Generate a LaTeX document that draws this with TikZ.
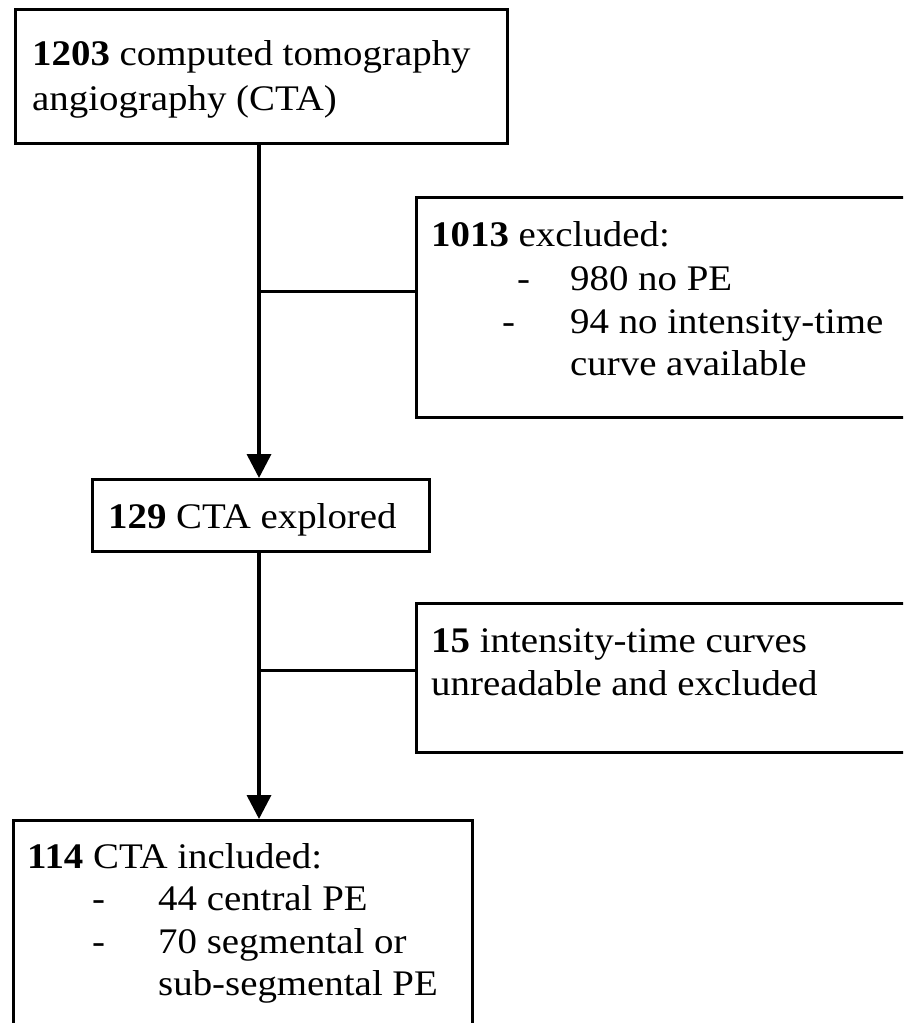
\documentclass[tikz,border=0pt]{standalone}
\usepackage{fontspec}
\setmainfont{Liberation Serif}[FakeStretch=1.08]
\usetikzlibrary{arrows.meta}
\tikzset{
  boxline/.style={draw=black, line width=3pt},
  txt/.style={anchor=base west, inner sep=0pt, font=\fontsize{36}{43}\selectfont},
  flow/.style={line width=3.6pt, -{Triangle[width=24pt,length=24pt]}},
  branch/.style={line width=3pt},
}
\begin{document}
\begin{tikzpicture}[x=1pt,y=-1pt]
\useasboundingbox (0,0) rectangle (903,1023);
\clip (0,0) rectangle (903,1023);
\fill[white] (0,0) rectangle (903,1023);
% boxes
\node[boxline, anchor=north west, minimum width=492pt, minimum height=134pt, inner sep=0pt] (top) at (14,8) {};
\node[boxline, anchor=north west, minimum width=505pt, minimum height=220pt, inner sep=0pt] (exa) at (415,196) {};
\node[boxline, anchor=north west, minimum width=337pt, minimum height=72pt, inner sep=0pt] (mid) at (91,478) {};
\node[boxline, anchor=north west, minimum width=505pt, minimum height=149pt, inner sep=0pt] (exb) at (415,602) {};
\node[boxline, anchor=north west, minimum width=459pt, minimum height=230pt, inner sep=0pt] (bot) at (12,819) {};
% texts
\node[txt] (t1) at (32,65) {\textbf{1203} computed tomography};
\node[txt] (t2) at (32,110) {angiography (CTA)};
\node[txt] (a1) at (431,246) {\textbf{1013} excluded:};
\node[txt] (a2d) at (517,290) {-};
\node[txt] (a2) at (570,290) {980 no PE};
\node[txt] (a3d) at (502,333) {-};
\node[txt] (a3) at (570,333) {94 no intensity-time};
\node[txt] (a4) at (570,375) {curve available};
\node[txt] (m1) at (108,528) {\textbf{129} CTA explored};
\node[txt] (b1) at (431,652) {\textbf{15} intensity-time curves};
\node[txt] (b2) at (431,695) {unreadable and excluded};
\node[txt] (c1) at (27,868) {\textbf{114} CTA included:};
\node[txt] (c2d) at (92,910) {-};
\node[txt] (c2) at (158,910) {44 central PE};
\node[txt] (c3d) at (92,953) {-};
\node[txt] (c3) at (158,953) {70 segmental or};
\node[txt] (c4) at (158,995) {sub-segmental PE};
% connectors
\coordinate (s1) at (259,142);
\coordinate (s2) at (259,550);
\coordinate (j1) at (259,291);
\coordinate (j2) at (259,670);
\draw[flow] (s1) -- (s1 |- mid.north);
\draw[flow] (s2) -- (s2 |- bot.north);
\draw[branch] (j1) -- (j1 -| exa.west);
\draw[branch] (j2) -- (j2 -| exb.west);
\end{tikzpicture}
\end{document}
